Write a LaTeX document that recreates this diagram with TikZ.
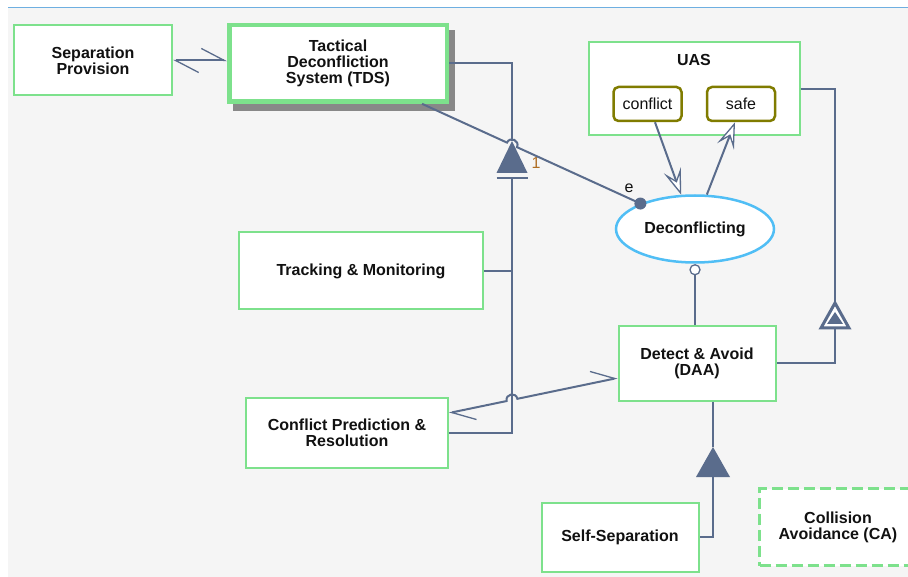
\documentclass[tikz,border=0pt]{standalone}
\usepackage{fontspec}
\setmainfont{Liberation Sans}
\usetikzlibrary{arrows.meta,calc,shapes.geometric,intersections,backgrounds}

\definecolor{bggray}{RGB}{245,245,245}
\definecolor{rulecol}{RGB}{110,175,225}
\definecolor{objgreen}{RGB}{125,225,140}
\definecolor{linkcol}{RGB}{90,108,140}
\definecolor{statecol}{RGB}{128,124,0}
\definecolor{proccol}{RGB}{80,190,245}
\definecolor{shadowcol}{RGB}{136,136,136}
\definecolor{labelcol}{RGB}{175,110,35}
\definecolor{textcol}{RGB}{17,17,17}

\newcommand\dgbold{\fontsize{16}{15.8}\selectfont\bfseries}
\newcommand\dgplain{\fontsize{16}{15.8}\selectfont}

\begin{document}
\begin{tikzpicture}[x=1pt,y=-1pt,
  every node/.style={text=textcol},
  obj/.style={draw=objgreen, line width=2pt, fill=white, inner sep=0pt,
    align=center, font=\dgbold},
  state/.style={draw=statecol, line width=2.5pt, fill=white, rounded corners=5pt,
    inner sep=0pt, font=\dgplain, minimum width=68pt, minimum height=34pt},
  proc/.style={ellipse, draw=proccol, line width=2.5pt, fill=white, inner sep=0pt,
    font=\dgbold, minimum width=158pt, minimum height=67pt},
  link/.style={draw=linkcol, line width=2pt},
  harp/.style={link, {Straight Barb[left, length=23pt, width=24pt, line width=1.3pt]}-{Straight Barb[left, length=23pt, width=24pt, line width=1.3pt]}},
  flowarr/.style={link, -{Stealth[length=26pt, width=18pt, inset=11pt, fill=white, line width=1.3pt]}},
]
\useasboundingbox (0,0) rectangle (908,577);

% objects
\node[obj, minimum width=158pt, minimum height=70pt] (sep) at (93,60.5) {Separation\\Provision};
\node[obj, line width=4.5pt, minimum width=217.5pt, minimum height=76.5pt] (tds) at (338,63.3) {Tactical\\Deconfliction\\System (TDS)};
\node[obj, minimum width=211pt, minimum height=93pt] (uas) at (694,89) {};
\node[font=\dgbold] (uastitle) at (694,60) {UAS};
\node[state] (conflict) at (647.5,104) {conflict};
\node[state] (safe) at (741,104) {safe};
\node[proc] (decon) at (695,229) {Deconflicting};
\node[obj, minimum width=244pt, minimum height=77pt] (track) at (361,271) {Tracking \& Monitoring};
\node[obj, minimum width=202pt, minimum height=70pt] (cpr) at (347,433) {Conflict Prediction \&\\Resolution};
\node[obj, minimum width=157pt, minimum height=74pt] (daa) at (697,363.5) {Detect \& Avoid\\(DAA)};
\node[obj, minimum width=157pt, minimum height=69pt] (self) at (620,537) {Self-Separation};
\node[obj, line width=2.5pt, dash pattern=on 11pt off 5pt, minimum width=157pt, minimum height=77pt] (ca) at (838,527) {Collision\\Avoidance (CA)};

\begin{scope}[on background layer]
  \fill[bggray] (8,8) rectangle (908,577);
  \draw[rulecol, line width=1pt] (8,8) -- (908,8);
  \fill[shadowcol] ([shift={(5.5,7.5)}]tds.north west) rectangle ([shift={(5.5,7.5)}]tds.south east);
\end{scope}

% Separation Provision <-> TDS
\draw[harp] (sep.east) -- (sep.east -| tds.west);

% TDS aggregation
\coordinate (aggtop) at (512,141);
\coordinate (aggfoot) at ($(aggtop)+(0,37)$);
\draw[link] (tds.east) -| (aggtop);
\fill[linkcol] (aggtop) -- ++(15.5,32) -- ++(-31,0) -- cycle;
\draw[link] ($(aggfoot)+(-15.5,0)$) -- ++(31,0);
\draw[link] (aggfoot) |- (cpr.east);
\draw[link] (track.east) -- (track.east -| aggfoot);
\node[font=\dgplain, text=labelcol] (mult) at (536,163) {1};
\path[name path=trunk] (aggtop |- tds.north) -- (aggtop |- cpr.south);

% TDS -> Deconflicting (effect link with hop)
\coordinate (tdsout) at ([xshift=84pt]tds.south);
\coordinate (effin) at (decon.155);
\path[name path=effline] (tdsout) -- (effin);
\path[name intersections={of=trunk and effline, by=hopA}];
\coordinate (hopAa) at ($(hopA)!5.5pt!(tdsout)$);
\coordinate (hopAb) at ($(hopA)!5.5pt!(effin)$);
\draw[link] (tdsout) -- (hopAa) .. controls ($(hopAa)!7.3pt!-90:(tdsout)$) and ($(hopAb)!7.3pt!90:(effin)$) .. (hopAb) -- (effin);
\fill[linkcol] (effin) circle[radius=6];
\node[font=\dgplain] (efflabel) at (629,188) {e};

% Conflict Prediction <-> DAA (with hop)
\coordinate (cprout) at ([yshift=20pt]cpr.east);
\coordinate (daain) at ([yshift=-14.5pt]daa.west);
\path[name path=cdline] (cprout) -- (daain);
\path[name intersections={of=trunk and cdline, by=hopB}];
\coordinate (hopBa) at ($(hopB)!5.5pt!(cprout)$);
\coordinate (hopBb) at ($(hopB)!5.5pt!(daain)$);
\draw[harp] (cprout) -- (hopBa) .. controls ($(hopBa)!7.3pt!-90:(cprout)$) and ($(hopBb)!7.3pt!90:(daain)$) .. (hopBb) -- (daain);

% state transitions
\draw[flowarr] ([xshift=7.5pt]conflict.south) -- (decon.112);
\draw[flowarr] (decon.71) -- ([xshift=-6pt]safe.south);

% Deconflicting - DAA instrument link
\coordinate (instr) at ($(decon.south)+(0,6)$);
\draw[link] ($(instr)+(0,5)$) -- (decon.south |- daa.north);
\draw[linkcol, line width=1.3pt, fill=white] (instr) circle[radius=5];

% UAS exhibition
\coordinate (exhtop) at (835,303);
\draw[link] (uas.east) -| (exhtop);
\draw[linkcol, line width=3pt, fill=white] (exhtop) -- ++(14,25) -- ++(-28,0) -- cycle;
\fill[linkcol] ($(exhtop)+(0,9)$) -- ++(8,12) -- ++(-16,0) -- cycle;
\draw[link] ($(exhtop)+(0,26.5)$) |- (daa.east);

% DAA aggregation
\coordinate (spectop) at (713,447);
\draw[link] (daa.south -| spectop) -- (spectop);
\fill[linkcol] (spectop) -- ++(17,30) -- ++(-34,0) -- cycle;
\draw[link] ($(spectop)+(0,30)$) |- (self.east);
\end{tikzpicture}
\end{document}
